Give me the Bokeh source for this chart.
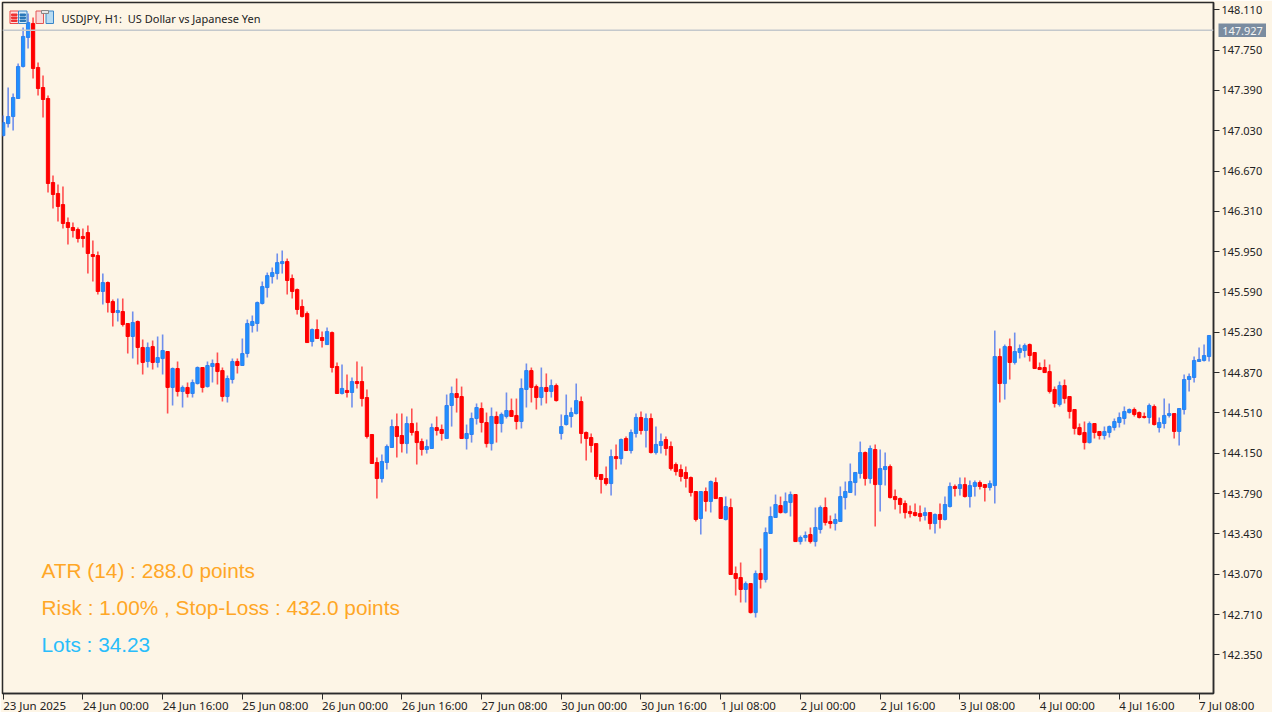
from bokeh.plotting import figure
from bokeh.models import ColumnDataSource, FixedTicker, Label, Span
from bokeh.layouts import column
from bokeh.core.properties import value
from bokeh.embed import file_html
from bokeh.resources import INLINE

open_ = [146.987,147.094,147.157,147.318,147.604,147.863,147.988,147.595,147.416,147.318,
146.568,146.470,146.371,146.211,146.166,146.148,146.086,146.121,145.925,145.916,
145.595,145.675,145.505,145.407,145.416,145.309,145.193,145.327,145.095,144.970,
145.103,144.961,144.996,145.059,144.738,144.907,144.702,144.738,144.684,144.773,
144.916,144.746,144.925,144.952,144.889,144.657,144.809,144.970,144.934,145.041,
145.291,145.309,145.488,145.630,145.728,145.755,145.844,145.862,145.711,145.612,
145.461,145.398,145.148,145.255,145.184,145.121,145.228,144.925,144.684,144.711,
144.693,144.791,144.791,144.648,144.318,144.068,143.925,144.068,144.202,144.389,
144.309,144.237,144.416,144.345,144.255,144.184,144.193,144.380,144.363,144.282,
144.577,144.684,144.657,144.282,144.318,144.461,144.550,144.425,144.237,144.479,
144.416,144.479,144.532,144.488,144.434,144.720,144.889,144.746,144.648,144.738,
144.702,144.755,144.327,144.407,144.479,144.505,144.612,144.336,144.291,144.237,
143.961,143.925,143.880,144.121,144.103,144.282,144.175,144.327,144.470,144.354,
144.461,144.157,144.220,144.273,144.211,144.050,144.005,143.979,143.934,143.809,
143.568,143.809,143.720,143.889,143.755,143.559,143.666,143.077,143.041,142.934,
142.987,142.728,143.077,143.023,143.434,143.577,143.684,143.621,143.711,143.782,
143.362,143.398,143.425,143.362,143.470,143.666,143.541,143.523,143.541,143.755,
143.800,143.889,143.970,144.157,143.925,144.184,143.871,144.005,144.032,143.764,
143.746,143.702,143.630,143.621,143.612,143.595,143.621,143.523,143.604,143.559,
143.675,143.854,143.836,143.871,143.764,143.854,143.889,143.871,143.845,143.862,
145.014,144.773,145.103,144.961,145.050,145.068,145.121,145.050,144.916,144.916,
144.880,144.720,144.586,144.755,144.657,144.541,144.380,144.336,144.246,144.416,
144.345,144.309,144.336,144.380,144.425,144.461,144.514,144.541,144.514,144.479,
144.470,144.568,144.380,144.416,144.488,144.505,144.345,144.541,144.809,144.827,
144.970,144.979,145.014]

high = [147.166,147.416,147.362,147.630,147.952,148.077,148.041,147.639,147.523,147.345,
146.630,146.550,146.532,146.255,146.211,146.166,146.157,146.184,146.050,145.952,
145.755,145.684,145.523,145.532,145.532,145.309,145.416,145.336,145.166,145.139,
145.157,145.193,145.211,145.059,144.916,144.970,144.755,144.782,144.809,144.925,
144.916,144.970,144.988,145.050,144.916,144.844,144.996,144.996,145.175,145.345,
145.380,145.505,145.684,145.764,145.809,145.934,145.961,145.889,145.746,145.621,
145.523,145.416,145.264,145.345,145.237,145.273,145.237,144.961,144.943,144.854,
144.827,144.970,144.925,144.720,144.318,144.113,144.139,144.229,144.452,144.505,
144.505,144.479,144.550,144.425,144.282,144.273,144.416,144.479,144.407,144.675,
144.746,144.818,144.746,144.407,144.514,144.595,144.604,144.514,144.559,144.523,
144.514,144.693,144.639,144.639,144.818,144.952,144.916,144.764,144.916,144.863,
144.809,144.773,144.497,144.675,144.559,144.773,144.657,144.345,144.327,144.237,
143.961,144.032,144.184,144.229,144.282,144.300,144.363,144.505,144.523,144.505,
144.505,144.389,144.327,144.300,144.255,144.068,144.050,144.032,143.943,143.809,
143.809,143.845,143.907,143.934,143.755,143.764,143.746,143.139,143.175,143.005,
142.987,143.104,143.300,143.488,143.675,143.782,143.764,143.800,143.809,143.782,
143.416,143.452,143.488,143.666,143.684,143.755,143.595,143.612,143.854,143.898,
144.059,143.979,144.255,144.166,144.220,144.229,144.184,144.157,144.050,143.827,
143.755,143.729,143.684,143.702,143.684,143.666,143.621,143.612,143.702,143.764,
143.889,143.871,143.934,143.934,143.907,143.907,143.907,143.871,143.907,145.246,
145.086,145.121,145.175,145.228,145.121,145.130,145.130,145.050,144.961,144.988,
144.943,144.746,144.791,144.809,144.657,144.541,144.416,144.434,144.434,144.416,
144.345,144.389,144.398,144.461,144.514,144.568,144.550,144.559,144.523,144.514,
144.595,144.586,144.470,144.639,144.595,144.505,144.550,144.854,144.863,145.014,
145.095,145.121,145.202]

low = [146.978,147.059,147.032,147.318,147.595,147.764,147.497,147.345,147.148,146.478,
146.336,146.220,146.157,146.014,146.077,146.032,145.987,145.755,145.684,145.568,
145.479,145.407,145.282,145.327,145.282,145.041,144.996,144.943,144.854,144.916,
144.898,144.916,144.854,144.505,144.577,144.657,144.559,144.648,144.648,144.764,
144.693,144.738,144.782,144.764,144.612,144.604,144.773,144.863,144.934,145.005,
145.228,145.237,145.479,145.541,145.666,145.702,145.755,145.568,145.532,145.389,
145.362,145.139,145.103,145.175,145.095,145.121,144.871,144.684,144.675,144.648,
144.559,144.729,144.568,144.282,144.059,143.746,143.889,144.005,144.202,144.113,
144.157,144.148,144.309,144.050,144.130,144.148,144.193,144.309,144.264,144.282,
144.389,144.514,144.282,144.184,144.246,144.407,144.336,144.202,144.175,144.246,
144.336,144.461,144.479,144.363,144.372,144.559,144.604,144.541,144.577,144.595,
144.648,144.612,144.273,144.398,144.380,144.497,144.237,144.086,144.157,143.916,
143.791,143.862,143.773,144.005,144.050,144.175,144.148,144.291,144.318,144.202,
144.148,144.139,144.148,144.130,143.996,143.952,143.898,143.845,143.764,143.541,
143.425,143.630,143.621,143.746,143.568,143.550,143.068,142.880,142.818,142.818,
142.720,142.684,142.943,142.996,143.434,143.577,143.612,143.612,143.586,143.362,
143.336,143.362,143.345,143.318,143.434,143.505,143.479,143.461,143.541,143.648,
143.800,143.773,143.925,143.862,143.880,143.496,143.630,143.862,143.746,143.648,
143.612,143.568,143.577,143.586,143.541,143.550,143.470,143.434,143.479,143.550,
143.666,143.764,143.773,143.755,143.666,143.764,143.827,143.720,143.818,143.702,
144.604,144.630,144.809,144.943,144.996,145.005,144.970,144.907,144.898,144.871,
144.684,144.559,144.568,144.595,144.461,144.318,144.309,144.184,144.237,144.282,
144.273,144.273,144.291,144.354,144.380,144.407,144.505,144.479,144.461,144.461,
144.416,144.398,144.336,144.372,144.470,144.282,144.220,144.497,144.702,144.782,
144.970,144.970,144.970]

close = [147.103,147.157,147.327,147.604,147.872,147.996,147.586,147.407,147.309,146.559,
146.461,146.354,146.202,146.166,146.139,146.068,146.068,145.934,145.907,145.595,
145.675,145.496,145.407,145.425,145.300,145.193,145.318,145.095,144.961,145.095,
144.961,145.005,145.068,144.738,144.907,144.702,144.738,144.684,144.782,144.916,
144.738,144.934,144.952,144.880,144.657,144.818,144.970,144.934,145.041,145.309,
145.327,145.496,145.639,145.737,145.764,145.853,145.862,145.693,145.595,145.434,
145.371,145.139,145.255,145.175,145.157,145.237,144.916,144.684,144.729,144.693,
144.791,144.773,144.639,144.300,144.059,143.925,144.077,144.211,144.389,144.300,
144.237,144.416,144.336,144.246,144.184,144.211,144.380,144.354,144.327,144.577,
144.684,144.648,144.282,144.327,144.461,144.559,144.425,144.237,144.479,144.416,
144.497,144.532,144.479,144.434,144.729,144.889,144.738,144.648,144.738,144.702,
144.755,144.621,144.389,144.488,144.514,144.621,144.327,144.282,144.220,143.943,
143.916,143.880,144.121,144.103,144.273,144.175,144.336,144.470,144.354,144.461,
144.157,144.229,144.255,144.193,144.014,143.987,143.943,143.925,143.800,143.559,
143.809,143.720,143.898,143.746,143.568,143.675,143.068,143.032,142.934,142.987,
142.728,143.077,143.023,143.443,143.586,143.693,143.621,143.720,143.782,143.362,
143.398,143.416,143.362,143.488,143.666,143.532,143.523,143.559,143.764,143.809,
143.898,143.979,144.157,143.925,144.193,143.871,144.014,144.032,143.755,143.737,
143.693,143.621,143.612,143.595,143.586,143.621,143.523,143.604,143.559,143.693,
143.854,143.836,143.871,143.764,143.862,143.889,143.854,143.845,143.880,145.014,
144.773,145.103,144.961,145.059,145.086,145.112,145.023,144.907,144.898,144.871,
144.702,144.595,144.755,144.639,144.523,144.372,144.318,144.246,144.416,144.336,
144.309,144.345,144.389,144.434,144.470,144.523,144.541,144.497,144.470,144.470,
144.577,144.407,144.425,144.488,144.505,144.345,144.550,144.809,144.836,144.979,
144.988,145.023,145.202]

bar_every = 16
time_labels = ["23 Jun 2025", "24 Jun 00:00", "24 Jun 16:00", "25 Jun 08:00", "26 Jun 00:00",
               "26 Jun 16:00", "27 Jun 08:00", "30 Jun 00:00", "30 Jun 16:00", "1 Jul 08:00",
               "2 Jul 00:00", "2 Jul 16:00", "3 Jul 08:00", "4 Jul 00:00", "4 Jul 16:00", "7 Jul 08:00"]
price_ticks = [142.35, 142.71, 143.07, 143.43, 143.79, 144.15, 144.51, 144.87, 145.23, 145.59,
               145.95, 146.31, 146.67, 147.03, 147.39, 147.75, 148.11]
last_price = 147.927
title_text = "USDJPY, H1:\u00a0 US Dollar vs Japanese Yen"
info_lines = ["ATR (14) : 288.0 points", "Risk : 1.00% , Stop-Loss : 432.0 points", "Lots : 34.23"]

BG = "#FDF5E6"
DARK = "#2b2b2b"

def X(px):
    return (px - 2.67) / 4.983

def Y(py):
    return 148.193 - py / 112.0

n = len(close)
idx = list(range(n))
up = [i for i in idx if close[i] >= open_[i]]
dn = [i for i in idx if close[i] < open_[i]]

def src(ids):
    return ColumnDataSource(dict(
        x=ids,
        o=[open_[i] for i in ids],
        h=[high[i] for i in ids],
        l=[low[i] for i in ids],
        c=[close[i] for i in ids],
    ))

p = figure(width=1272, height=712, output_backend="svg", toolbar_location=None,
           x_range=(X(2), X(1213)), y_range=(Y(693), Y(2)),
           y_axis_location="right", min_border_left=2, min_border_right=59,
           min_border_top=2, min_border_bottom=19,
           background_fill_color=BG, border_fill_color=BG,
           outline_line_color=DARK, outline_line_width=1.5)
p.grid.visible = False

for ax in (p.xaxis[0], p.yaxis[0]):
    ax.axis_line_color = DARK
    ax.axis_line_width = 1.5
    ax.major_tick_line_color = DARK
    ax.major_tick_out = 6
    ax.major_tick_in = 0
    ax.minor_tick_line_color = None
    ax.major_label_text_font = "Noto Sans"
    ax.major_label_text_font_size = "11px"
    ax.major_label_text_color = "#222222"

p.yaxis[0].ticker = FixedTicker(ticks=price_ticks)
p.yaxis[0].major_label_overrides = {t: f"{t:.3f}" for t in price_ticks}
p.yaxis[0].major_label_standoff = 2

x_ticks = [i * bar_every for i in range(len(time_labels))]
p.xaxis[0].ticker = FixedTicker(ticks=x_ticks)
p.xaxis[0].major_label_text_color = None

p.add_layout(Span(location=last_price, dimension="width", line_color="#c4c8cc", line_width=1.5))

for ids, wick, body, edge in ((up, "#6f8fec", "#1E90FF", "#2f7fee"), (dn, "#ff5050", "#FF0000", "#FF0000")):
    s = src(ids)
    p.segment("x", "h", "x", "l", source=s, line_color=wick, line_width=1.6)
    p.vbar(x="x", bottom="o", top="c", width=0.66, source=s, fill_color=body, line_color=edge, line_width=1)

# toolbar icons of the chart window
def box(l, t, r, b, fill, edge):
    p.quad(left=[X(l)], right=[X(r)], top=[Y(t)], bottom=[Y(b)], fill_color=fill, line_color=edge, line_width=1)

box(9.5, 10.5, 18, 23, "#fde0e0", "#ee4444")
box(18, 10.5, 26.5, 23, "#d6ebf8", "#3a86c8")
for t in (13.5, 16.5, 19.5):
    box(11, t, 16.5, t + 1.5, "#ee3333", "#ee3333")
    box(19.5, t, 25, t + 1.5, "#2a78b8", "#2a78b8")
box(35.5, 10.5, 43, 23, "#fbd9d9", "#e25555")
box(45.5, 10.5, 53, 23, "#b8dcf2", "#3a86c8")
box(41, 10, 48, 13, "#e8e8e8", "#888888")

p.add_layout(Label(x=X(61), y=Y(17.5), text=title_text, text_font="Noto Sans", text_font_size="11px",
                   text_color="#222222", text_baseline="middle"))

for text, py, col in zip(info_lines, (570, 607, 644), ("#FFA726", "#FFA726", "#29BDFB")):
    p.add_layout(Label(x=X(41), y=Y(py), text=text, text_font="Liberation Sans", text_font_size="20.8px",
                       text_color=col, text_baseline="middle"))

# labels of the time axis begin at their tick, and the last one runs past the chart's right edge:
# they sit on a see-through strip that uses the same bar scale and overlaps the bottom of the chart
strip = figure(width=1272, height=18, output_backend="svg", toolbar_location=None,
               x_range=(X(0), X(1272)), y_range=(0, 1), x_axis_type=None, y_axis_type=None,
               min_border=0, outline_line_color=None,
               background_fill_color=None, border_fill_color=None)
strip.grid.visible = False
strip.text(x=x_ticks, y=[0.39] * len(x_ticks), text=time_labels, text_font=value("Noto Sans"),
           text_font_size="11.5px", text_color="#222222", text_baseline="middle", text_align="left")

# the tag with the last price on the price scale
tag = figure(width=48, height=14, output_backend="svg", toolbar_location=None,
             x_range=(0, 1), y_range=(0, 1), x_axis_type=None, y_axis_type=None,
             min_border=0, outline_line_color=None,
             background_fill_color="#7A8CA0", border_fill_color="#7A8CA0")
tag.grid.visible = False
tag.text(x=[0.5], y=[0.5], text=[f"{last_price:.3f}"], text_font=value("Noto Sans"),
         text_font_size="11px", text_color="#f4f4f4", text_baseline="middle", text_align="center")

strip_box = column(strip, styles={"margin-top": "-18px"})
tag_box = column(tag, styles={"margin-top": "-689px", "margin-left": "1218px"})
open("out.html", "w").write(file_html(column(p, strip_box, tag_box, spacing=0), INLINE))
